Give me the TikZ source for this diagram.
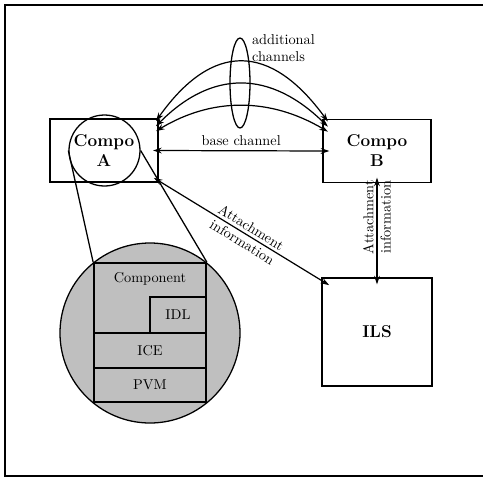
\documentclass[tikz,border=0pt]{standalone}
\usetikzlibrary{arrows.meta}

\tikzset{
  box/.style={draw, line width=1.2pt, minimum width=75.6pt, minimum height=44.1pt, font=\large\bfseries, align=center},
  layer/.style={draw, line width=1.2pt, minimum width=78.4pt, inner sep=0pt},
  ring/.style={circle, draw, line width=0.9pt, inner sep=0pt},
  link/.style={line width=0.85pt, {Stealth[length=6pt,width=4pt]}-{Stealth[length=6pt,width=4pt]}},
}

\begin{document}
\begin{tikzpicture}[x=0.7pt,y=-0.7pt]
\useasboundingbox (0,0) rectangle (483,479);
% frame, runs off to the right
\draw[line width=1.6pt] (500,5) -- (5,5) -- (5,476) -- (500,476);

% the two components and the location service
\node[box] (compoA) at (104,150.5) {Compo\\A};
\node[box] (compoB) at (377,151) {Compo\\B};
\node[box, minimum width=77pt, minimum height=75.6pt] (ils) at (377,332) {ILS};

% magnified view of component A
\node[ring] (lens) at (104.5,150.5) [minimum size=49.7pt] {};
\node[ring, fill=black!25] (detail) at (150,333) [minimum size=126pt] {};
\node[layer, minimum height=49pt] (comp) at (150,298) {};
\node[anchor=north, yshift=-4pt] (complbl) at (comp.north) {Component};
\node[layer, minimum width=39.2pt, minimum height=25.2pt] (idl) at (178,315) {IDL};
\node[layer, minimum height=24.5pt] (ice) at (150,350.5) {ICE};
\node[layer, minimum height=23.8pt] (pvm) at (150,385) {PVM};
\draw[line width=0.9pt] (lens.west) -- (comp.north west);
\draw[line width=0.9pt] (lens.east) -- (comp.north east);

% channels between A and B
\draw[link] ([xshift=-4pt]compoA.east) -- node[above] (baselbl) {base channel} ([xshift=5pt]compoB.west);
\draw[link] ([xshift=-2pt,yshift=-2pt]compoA.north east) .. controls (212,42) and (270,42) .. ([xshift=4pt,yshift=-2pt]compoB.north west);
\draw[link] ([xshift=-2pt,yshift=-5.6pt]compoA.north east) .. controls (212,69.7) and (270,69.7) .. ([xshift=4pt,yshift=-5.6pt]compoB.north west);
\draw[link] ([xshift=-2pt,yshift=-9.1pt]compoA.north east) .. controls (212,97.3) and (270,97.3) .. ([xshift=4pt,yshift=-9.1pt]compoB.north west);
\draw[line width=0.9pt] (240,83) ellipse [x radius=10, y radius=45];
\node[anchor=west, align=left] (addlbl) at (247,48) {additional\\channels};

% attachment information to the ILS
\draw[link] ([xshift=-3.5pt,yshift=3.5pt]compoA.south east) -- node[pos=0.53, sloped, align=center] (attA) {Attachment\\information} ([xshift=5.6pt,yshift=-5.6pt]ils.north west);
\draw[link] ([yshift=4pt]compoB.south) -- node[pos=0.37, rotate=90, align=center] (attB) {Attachment\\information} ([yshift=-5pt]ils.north);
\end{tikzpicture}
\end{document}
